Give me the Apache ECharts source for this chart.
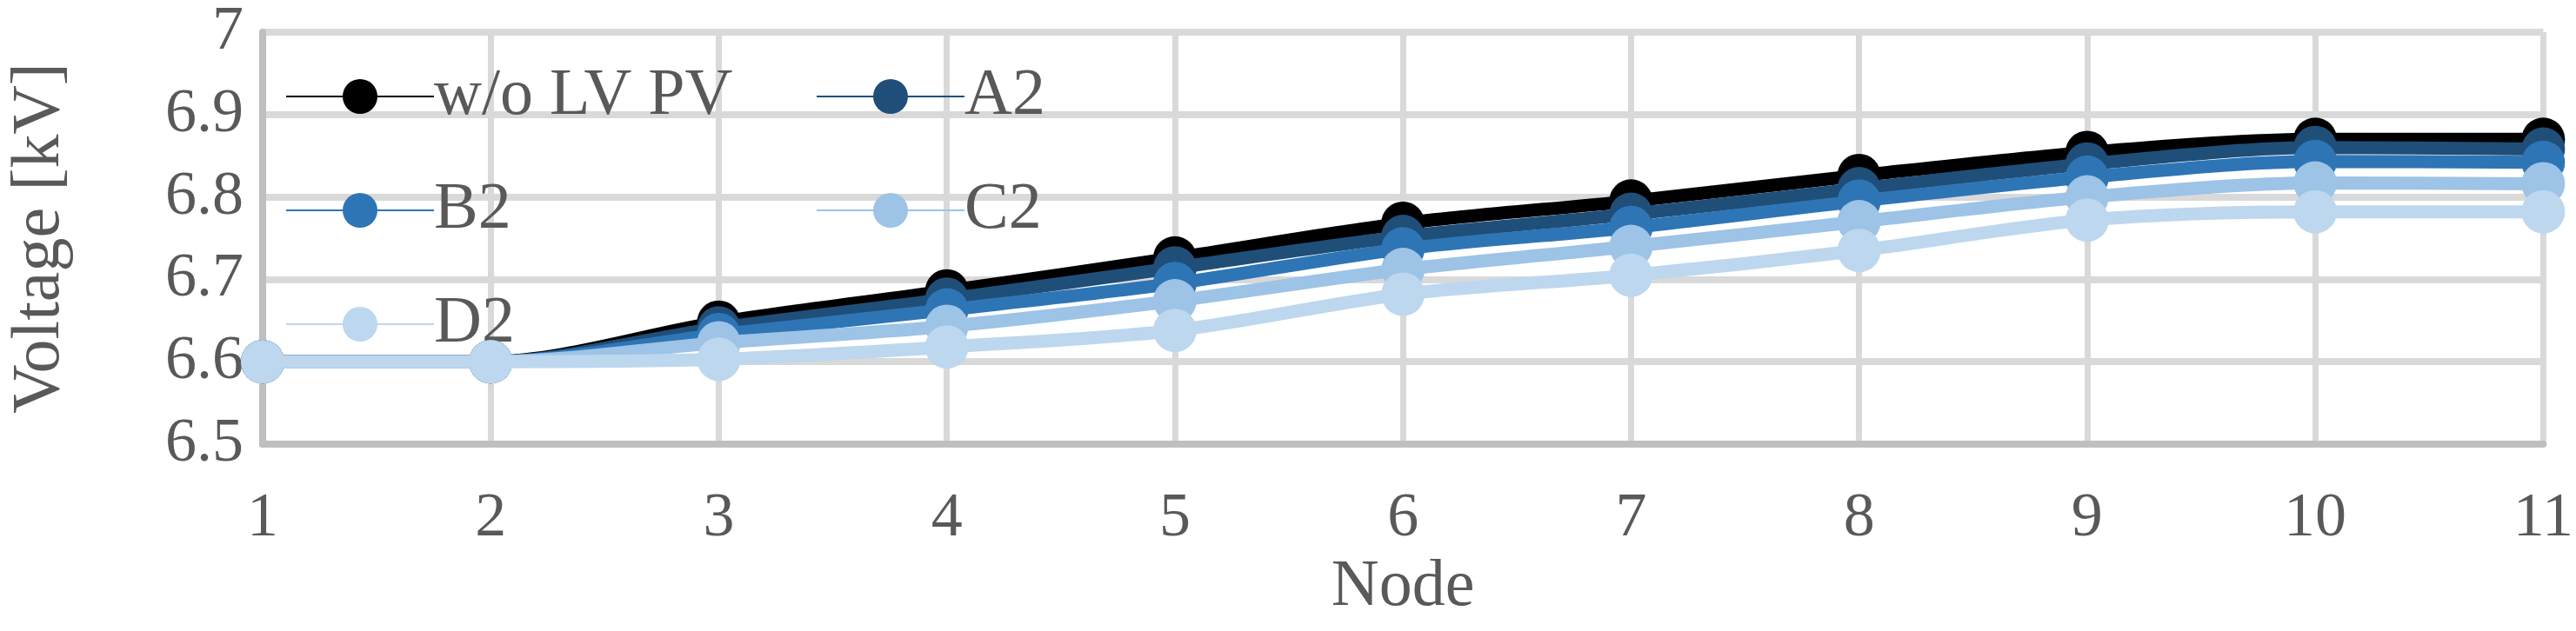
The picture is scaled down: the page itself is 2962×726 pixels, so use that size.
<!DOCTYPE html>
<html>
<head>
<meta charset="utf-8">
<script src="https://cdn.jsdelivr.net/npm/echarts@6/dist/echarts.min.js"></script>
<style>
  html, body { margin: 0; padding: 0; background: #fff; }
  #chart { width: 2962px; height: 726px; }
</style>
</head>
<body>
<div id="chart"></div>
<script>
  // 节点
  const nodes = ["1", "2", "3", "4", "5", "6", "7", "8", "9", "10", "11"];
  const seriesNames = ["w/o LV PV", "A2", "B2", "C2", "D2"];
  const colors = ["#000000", "#1f4e79", "#2e75b6", "#9dc3e6", "#bdd7ee"];
  const woLvPv = [6.6, 6.6, 6.648, 6.686, 6.726, 6.768, 6.795, 6.826, 6.854, 6.870, 6.870];
  const a2 = [6.6, 6.6, 6.641, 6.676, 6.714, 6.752, 6.779, 6.810, 6.840, 6.860, 6.858];
  const b2 = [6.6, 6.6, 6.633, 6.663, 6.695, 6.737, 6.763, 6.795, 6.824, 6.843, 6.842];
  const c2 = [6.6, 6.6, 6.623, 6.643, 6.674, 6.712, 6.740, 6.770, 6.800, 6.817, 6.816];
  const d2 = [6.6, 6.6, 6.603, 6.618, 6.638, 6.682, 6.705, 6.735, 6.772, 6.782, 6.782];
  const yTicks = [6.5, 6.6, 6.7, 6.8, 6.9, 7];

  const allData = [woLvPv, a2, b2, c2, d2];
  const font = "Liberation Serif";

  var myChart = echarts.init(document.getElementById("chart"));
  let series = allData.map((d, i) => {
    return {
      name: seriesNames[i],
      type: "line",
      smooth: 0.3,
      data: d,
      symbol: "circle",
      symbolSize: 50,
      itemStyle: { color: colors[i] },
      lineStyle: { color: colors[i], width: 15 },
      z: 2 + i
    };
  });
  let legendCommon = {
    orient: "vertical",
    top: 68,
    itemWidth: 170,
    itemHeight: 50,
    itemGap: 55,
    textStyle: { fontFamily: font, fontSize: 76, color: "#595959", padding: [8, 0, 0, -5] }
  };
  myChart.setOption({
    animation: false,
    grid: { left: 266, right: 37, top: 37, bottom: 215, containLabel: false },
    legend: [
      Object.assign({}, legendCommon, { left: 323, data: ["w/o LV PV", "B2", "D2"] }),
      Object.assign({}, legendCommon, { left: 933, data: ["A2", "C2"] })
    ],
    xAxis: {
      type: "category",
      data: nodes,
      boundaryGap: false,
      name: "Node",
      nameLocation: "middle",
      nameGap: 115,
      nameTextStyle: { fontFamily: font, fontSize: 76, color: "#595959" },
      axisLine: { lineStyle: { color: "#bfbfbf", width: 8 } },
      axisTick: { show: false },
      axisLabel: { fontFamily: font, fontSize: 72, color: "#595959", margin: 50 },
      splitLine: { show: true, lineStyle: { color: "#d9d9d9", width: 7 } }
    },
    yAxis: {
      type: "value",
      min: yTicks[0],
      max: yTicks[yTicks.length - 1],
      interval: 0.1,
      name: "Voltage [kV]",
      nameLocation: "middle",
      nameGap: 216,
      nameTextStyle: { fontFamily: font, fontSize: 78, color: "#595959" },
      axisLine: { show: true, lineStyle: { color: "#bfbfbf", width: 8 } },
      axisTick: { show: false },
      axisLabel: { fontFamily: font, fontSize: 72, color: "#595959", margin: 22,
        formatter: v => String(Math.round(v * 10) / 10) },
      splitLine: { show: true, lineStyle: { color: "#d9d9d9", width: 8 } }
    },
    series: series
  });
</script>
</body>
</html>
